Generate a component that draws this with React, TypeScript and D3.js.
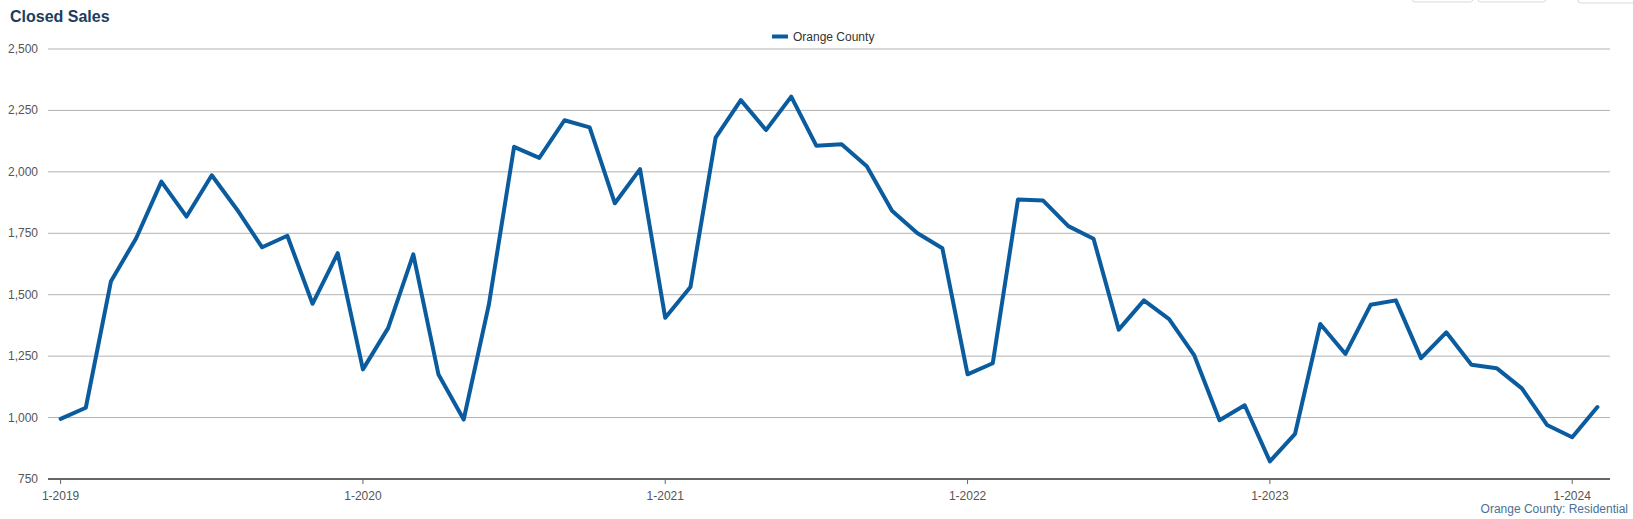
import React from "react";
import * as d3 from "d3";

const months: string[] = [];
const years = [2019, 2020, 2021, 2022, 2023, 2024];
years.forEach((y) => {
  const n = y === 2024 ? 2 : 12;
  for (let m = 1; m <= n; m++) months.push(`${m}-${y}`);
});

const sales2019 = [995, 1040, 1555, 1730, 1960, 1818, 1986, 1847, 1693, 1740, 1463, 1669];
const sales2020 = [1196, 1364, 1664, 1175, 992, 1460, 2102, 2057, 2210, 2181, 1872, 2011];
const sales2021 = [1406, 1531, 2139, 2292, 2170, 2306, 2106, 2112, 2023, 1842, 1751, 1689];
const sales2022 = [1176, 1221, 1887, 1883, 1779, 1728, 1358, 1477, 1401, 1253, 989, 1050];
const sales2023 = [822, 934, 1381, 1259, 1459, 1477, 1242, 1347, 1215, 1201, 1119, 970];
const sales2024 = [920, 1043];
const values = [...sales2019, ...sales2020, ...sales2021, ...sales2022, ...sales2023, ...sales2024];

const yTicks = [750, 1000, 1250, 1500, 1750, 2000, 2250, 2500];
const xTickLabels = ["1-2019", "1-2020", "1-2021", "1-2022", "1-2023", "1-2024"];

const title = "Closed Sales";
const seriesName = "Orange County";
const footnote = "Orange County: Residential";

const W = 1633;
const H = 519;
const left = 48;
const right = 1610;
const top = 49;
const bottom = 479;
const lineColor = "#0b5c9e";
const font = "Arial, 'Liberation Sans', sans-serif";

export default function App() {
  const x = d3.scalePoint<string>().domain(months).range([left, right]).padding(0.5);
  const y = d3.scaleLinear().domain([750, 2500]).range([bottom, top]);
  const line = d3
    .line<number>()
    .x((_, i) => x(months[i]) as number)
    .y((d) => y(d));
  const fmt = d3.format(",");

  return (
    <div style={{ position: "absolute", left: 0, top: 0, width: W, height: H, background: "#fff" }}>
      <svg width={W} height={H} style={{ display: "block", fontFamily: font }}>
        <rect x={0} y={0} width={W} height={H} fill="#fff" />
        {/* top-right buttons (cut off) */}
        <rect x={1412} y={-20} width={61} height={22} rx={3} fill="#fff" stroke="#d4dbe3" />
        <rect x={1478} y={-20} width={68} height={22} rx={3} fill="#fff" stroke="#d4dbe3" />
        <rect x={1578} y={-20} width={70} height={23} rx={3} fill="#fff" stroke="#d4dbe3" />

        <text x={10} y={22} fontSize={16} fontWeight="bold" fill="#1d3d5e">
          {title}
        </text>

        {/* legend */}
        <line x1={772} x2={788} y1={36.5} y2={36.5} stroke={lineColor} strokeWidth={4} />
        <text x={793} y={40.5} fontSize={12} fill="#333">
          {seriesName}
        </text>

        {/* gridlines */}
        {yTicks.map((t) =>
          t === 750 ? null : (
            <line key={t} x1={left} x2={right} y1={y(t)} y2={y(t)} stroke="#b3b3b3" strokeWidth={1} />
          )
        )}
        {/* y labels */}
        {yTicks.map((t) => (
          <text key={"l" + t} x={38} y={y(t) + 4} fontSize={12} fill="#555" textAnchor="end">
            {fmt(t)}
          </text>
        ))}

        {/* x axis */}
        <line x1={left} x2={right} y1={bottom} y2={bottom} stroke="#666" strokeWidth={2} />
        {xTickLabels.map((lab) => {
          const xp = x(lab) as number;
          return (
            <g key={lab}>
              <line x1={xp} x2={xp} y1={bottom} y2={bottom + 5} stroke="#666" strokeWidth={1} />
              <text x={xp} y={500} fontSize={12} fill="#555" textAnchor="middle">
                {lab}
              </text>
            </g>
          );
        })}

        <path
          d={line(values) || ""}
          fill="none"
          stroke={lineColor}
          strokeWidth={4}
          strokeLinejoin="round"
          strokeLinecap="round"
        />

        <text x={1628} y={513} fontSize={12} fill="#4d6f96" textAnchor="end">
          {footnote}
        </text>
      </svg>
    </div>
  );
}
